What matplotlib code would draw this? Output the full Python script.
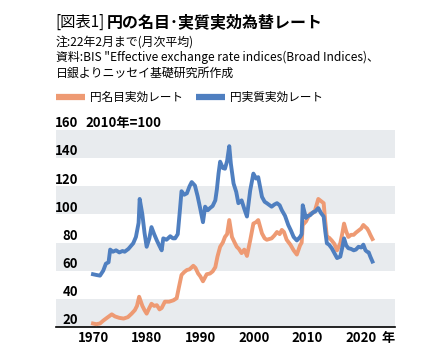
import matplotlib
matplotlib.use("Agg")
import matplotlib.pyplot as plt
import matplotlib.transforms as mtransforms

plt.rcParams['font.family'] = ['Noto Sans CJK JP', 'DejaVu Sans']

# --- data (2010 = 100, monthly avg, to Feb 2022) ---
real_years = [1970.0, 1970.6, 1971.3, 1971.9, 1972.4, 1972.9, 1973.2, 1973.7, 1974.3,
              1974.9, 1975.5, 1975.9, 1976.6, 1977.5, 1978.0, 1978.5, 1978.7, 1979.2,
              1979.6, 1980.0, 1980.5, 1980.9, 1981.4, 1981.9, 1982.4, 1982.8, 1983.1,
              1983.7, 1984.4, 1984.9, 1985.3, 1985.8, 1986.2, 1986.5, 1987.0, 1987.5,
              1988.0, 1988.4, 1989.0, 1989.5, 1990.0, 1990.5, 1990.9, 1991.4, 1991.8,
              1992.3, 1992.8, 1993.1, 1993.4, 1993.7, 1994.2, 1994.6, 1995.0, 1995.4,
              1995.7, 1996.2, 1996.7, 1997.1, 1997.7, 1998.2, 1998.7, 1999.3, 1999.9,
              2000.4, 2000.8, 2001.5, 2002.0, 2002.4, 2003.3, 2003.8, 2004.3, 2004.8,
              2005.2, 2005.8, 2006.4, 2006.9, 2007.4, 2008.0, 2008.6, 2008.9, 2009.1,
              2009.7, 2010.1, 2010.5, 2011.0, 2011.4, 2012.0, 2012.5, 2013.0, 2013.3,
              2013.6, 2014.0, 2014.5, 2015.0, 2015.5, 2016.1, 2016.5, 2016.8, 2017.2,
              2017.6, 2018.1, 2018.6, 2019.0, 2019.5, 2020.0, 2020.4, 2020.8, 2021.1,
              2021.4, 2021.7, 2022.1]
real_vals = [57.5, 57.0, 56.5, 60.0, 65.0, 66.0, 75.0, 73.5, 74.5,
             73.0, 74.0, 73.5, 75.5, 79.5, 84.0, 94.0, 111.0, 100.0,
             87.0, 77.0, 83.0, 91.0, 86.0, 81.5, 77.5, 74.5, 83.0,
             82.0, 84.5, 83.0, 83.0, 86.0, 103.0, 116.5, 114.0, 115.0,
             120.0, 123.0, 120.5, 113.0, 104.0, 94.5, 105.5, 103.0, 104.5,
             106.0, 110.0, 118.0, 129.0, 137.5, 133.0, 132.5, 138.0, 148.5,
             136.0, 122.0, 116.0, 108.0, 110.0, 104.0, 98.5, 117.0, 129.0,
             125.5, 126.5, 112.5, 109.0, 108.0, 105.5, 107.0, 108.0, 106.5,
             103.0, 99.0, 92.5, 88.5, 84.0, 81.5, 84.0, 86.0, 106.5,
             97.5, 99.0, 99.5, 101.5, 102.0, 104.5, 101.0, 98.5, 88.0,
             79.5, 78.5, 76.0, 72.5, 69.0, 70.0, 77.0, 83.0, 78.0,
             76.0, 75.5, 74.5, 75.0, 77.0, 76.5, 78.5, 74.5, 73.5,
             73.0, 70.0, 66.5]

nom_years = [1970.0, 1970.6, 1971.3, 1971.9, 1972.6, 1973.5, 1974.1, 1974.9, 1975.7,
             1976.5, 1977.2, 1977.8, 1978.2, 1978.6, 1979.2, 1979.6, 1980.0, 1980.5,
             1980.9, 1981.4, 1981.9, 1982.4, 1982.8, 1983.4, 1984.2, 1985.0, 1985.6,
             1986.0, 1986.5, 1987.0, 1987.5, 1988.0, 1988.7, 1989.1, 1989.6, 1990.0,
             1990.5, 1991.2, 1991.8, 1992.3, 1992.8, 1993.2, 1993.7, 1994.2, 1994.6,
             1995.0, 1995.4, 1995.9, 1996.4, 1996.8, 1997.2, 1997.7, 1998.2, 1998.7,
             1999.3, 1999.9, 2000.4, 2000.8, 2001.5, 2002.0, 2002.4, 2003.3, 2003.8,
             2004.3, 2004.8, 2005.2, 2005.6, 2006.1, 2006.8, 2007.4, 2008.0, 2008.6,
             2008.9, 2009.1, 2009.7, 2010.1, 2010.5, 2011.0, 2011.4, 2012.0, 2012.5,
             2013.0, 2013.3, 2013.6, 2014.0, 2014.5, 2015.0, 2015.5, 2016.1, 2016.5,
             2016.8, 2017.2, 2017.6, 2018.1, 2018.6, 2019.0, 2019.5, 2020.0, 2020.4,
             2020.8, 2021.1, 2021.4, 2021.7, 2022.1]
nom_vals = [22.5, 22.0, 22.5, 24.5, 26.5, 29.0, 27.5, 26.5, 26.0,
            27.0, 29.5, 32.0, 35.0, 41.5, 35.0, 32.0, 29.5, 33.5,
            36.5, 35.0, 35.5, 32.5, 33.5, 38.0, 38.0, 39.0, 40.5,
            48.0, 57.0, 59.0, 60.5, 61.0, 63.5, 62.0, 58.0, 56.0,
            52.5, 57.5, 58.0, 59.5, 62.5, 70.0, 77.0, 80.0, 84.0,
            86.0, 96.0, 84.0, 80.0, 77.0, 75.5, 72.5, 75.0, 70.5,
            81.5, 93.5, 94.5, 96.0, 86.5, 83.0, 82.0, 83.0, 85.0,
            87.5, 86.0, 89.0, 87.5, 82.0, 78.5, 74.5, 71.5, 78.0,
            80.0, 92.5, 95.0, 98.0, 100.5, 101.0, 103.0, 111.0, 109.5,
            108.0, 95.0, 84.0, 83.5, 81.5, 79.0, 74.5, 79.5, 87.0,
            93.5, 88.0, 84.0, 85.5, 85.5, 87.0, 88.5, 90.0, 92.5,
            91.0, 90.0, 88.0, 85.5, 82.5]

bands = [(20, 40), (60, 80), (100, 120), (140, 160)]
y_ticks = [20, 40, 60, 80, 100, 120, 140, 160]
x_ticks = [1970, 1980, 1990, 2000, 2010, 2020]

ORANGE = "#EE9A73"
BLUE = "#4F7FC0"
BAND = "#E8EBEE"

W, H = 447, 363
fig = plt.figure(figsize=(W / 100, H / 100), dpi=100)


def fx(px):
    return px / W


def fy(py):
    return 1 - py / H


# header text
fig.text(fx(55), fy(22), "[図表1]", fontsize=11, va="center", ha="left")
fig.text(fx(107), fy(22), "円の名目･実質実効為替レート", fontsize=11.5,
         weight="bold", va="center", ha="left")
notes = ["注:22年2月まで(月次平均)",
         "資料:BIS \"Effective exchange rate indices(Broad Indices)、",
         "日銀よりニッセイ基礎研究所作成"]
for i, line in enumerate(notes):
    fig.text(fx(56), fy(42 + i * 15.5), line, fontsize=8.6, va="center", ha="left")

# legend (drawn by hand, like the original)
for x0, col, lab in [(56, ORANGE, "円名目実効レート"), (196, BLUE, "円実質実効レート")]:
    fig.add_artist(plt.Line2D([fx(x0), fx(x0 + 29)], [fy(97), fy(97)],
                              transform=fig.transFigure, color=col, lw=4.5,
                              solid_capstyle="butt"))
    fig.text(fx(x0 + 34), fy(97), lab, fontsize=8.4, va="center", ha="left")

# plot area
ax = fig.add_axes([fx(56), fy(327), fx(395) - fx(56), fy(130) - fy(327)])
for lo, hi in bands:
    ax.axhspan(lo, hi, color=BAND, lw=0, zorder=0)

ax.plot(nom_years, nom_vals, color=ORANGE, lw=2.8, zorder=3)
ax.plot(real_years, real_vals, color=BLUE, lw=2.8, zorder=4)

ax.set_xlim(1963.1, 2026.3)
ax.set_ylim(20, 160)
ax.set_yticks([])
ax.set_xticks(x_ticks)
ax.set_xticklabels([str(t) for t in x_ticks], fontsize=9.5, weight="bold")
ax.tick_params(axis="x", length=0, pad=3)
for s in ["top", "right", "left"]:
    ax.spines[s].set_visible(False)
ax.spines["bottom"].set_linewidth(1.2)
ax.spines["bottom"].set_color("black")

# y labels sit inside the plot, just above their gridline value
trans = mtransforms.blended_transform_factory(ax.transAxes, ax.transData)
for t in y_ticks:
    ax.annotate(str(t), xy=(0.065, t), xycoords=trans, xytext=(0, 2),
                textcoords="offset points", ha="right", va="baseline",
                fontsize=9.5, weight="bold", zorder=5)
ax.annotate("2010年=100", xy=(0.0855, 160), xycoords=trans, xytext=(0, 2),
            textcoords="offset points", ha="left", va="baseline",
            fontsize=9.5, weight="bold", annotation_clip=False)

fig.text(fx(388), fy(338), "年", fontsize=9.5, weight="bold", va="center", ha="center")

fig.savefig("out.png", dpi=100)
